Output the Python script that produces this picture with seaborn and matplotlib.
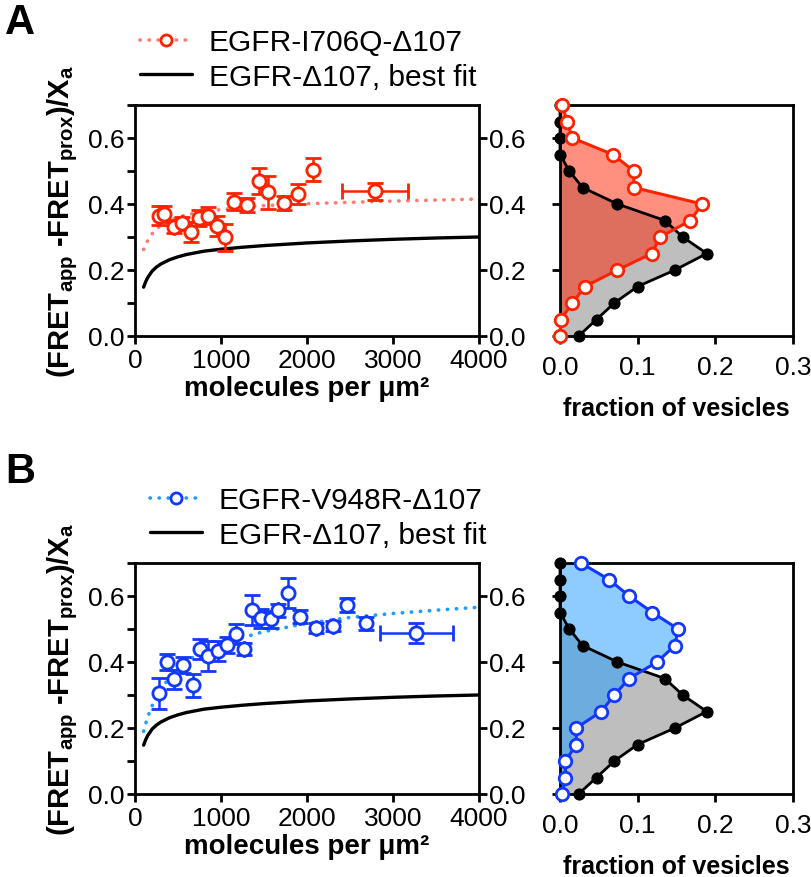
import matplotlib
matplotlib.use("Agg")
import matplotlib.pyplot as plt
import seaborn as sns
from matplotlib.lines import Line2D
from matplotlib.ticker import MultipleLocator

# --- style ---
sns.set_style("ticks")
plt.rcParams["font.family"] = ["Liberation Sans", "DejaVu Sans"]
plt.rcParams["mathtext.fontset"] = "custom"
plt.rcParams["mathtext.rm"] = "Liberation Sans"
plt.rcParams["mathtext.bf"] = "Liberation Sans:bold"
plt.rcParams["mathtext.it"] = "Liberation Sans:italic"
for k in ["text.color", "axes.labelcolor", "xtick.color", "ytick.color", "axes.edgecolor"]:
    plt.rcParams[k] = "black"

red = "#FF2200"
salmon = "#FF7A70"
blue = "#1238FF"
sky = "#1E9BFF"
gray = "#BEBEBE"

# --- best-fit curves ---
fit_x = [100, 125, 150, 200, 250, 300, 400, 500, 600, 800, 1000, 1250, 1500, 2000, 2500, 3000, 3500, 4000]
wt_fit = [0.148, 0.165, 0.178, 0.197, 0.209, 0.218, 0.231, 0.240, 0.247, 0.257, 0.263, 0.269, 0.274,
          0.282, 0.288, 0.293, 0.297, 0.300]
i706q_fit = [0.262, 0.278, 0.290, 0.310, 0.324, 0.335, 0.350, 0.360, 0.367, 0.377, 0.383, 0.390, 0.395,
             0.401, 0.405, 0.409, 0.412, 0.415]
v948r_fit = [0.190, 0.214, 0.235, 0.268, 0.295, 0.318, 0.352, 0.378, 0.402, 0.435, 0.455, 0.474, 0.492,
             0.517, 0.535, 0.547, 0.557, 0.566]

# --- EGFR-I706Q-D107 binned points ---
i706q_x = [279, 341, 453, 550, 650, 747, 852, 949, 1045, 1146, 1297, 1444, 1541, 1735, 1890, 2064, 2792]
i706q_y = [0.365, 0.370, 0.331, 0.341, 0.316, 0.357, 0.365, 0.334, 0.299, 0.407, 0.397, 0.469, 0.435,
           0.403, 0.430, 0.504, 0.438]
i706q_yerr = [0.030, 0.025, 0.020, 0.020, 0.030, 0.025, 0.025, 0.030, 0.040, 0.025, 0.020, 0.040, 0.050,
              0.020, 0.030, 0.035, 0.025]
i706q_xerr = [0, 0, 0, 0, 0, 0, 0, 0, 0, 0, 0, 0, 0, 0, 0, 0, 380]

# --- EGFR-V948R-D107 binned points ---
v948r_x = [279, 368, 457, 561, 670, 755, 852, 960, 1065, 1169, 1266, 1356, 1464, 1576, 1665, 1781, 1917,
           2110, 2304, 2467, 2691, 3272]
v948r_y = [0.305, 0.400, 0.347, 0.391, 0.330, 0.440, 0.418, 0.433, 0.452, 0.484, 0.440, 0.557, 0.532,
           0.529, 0.557, 0.610, 0.537, 0.502, 0.509, 0.573, 0.517, 0.489]
v948r_yerr = [0.048, 0.025, 0.030, 0.025, 0.035, 0.030, 0.045, 0.030, 0.025, 0.030, 0.018, 0.045, 0.030,
              0.025, 0.020, 0.045, 0.020, 0.015, 0.015, 0.020, 0.020, 0.030]
v948r_xerr = [0] * 21 + [426]

# --- histograms: fraction of vesicles per FRET bin ---
hist_bins = [0.0, 0.05, 0.10, 0.15, 0.20, 0.25, 0.30, 0.35, 0.40, 0.45, 0.50, 0.55, 0.60, 0.65, 0.70]
wt_frac = [0.024, 0.047, 0.070, 0.100, 0.148, 0.189, 0.158, 0.135, 0.074, 0.029, 0.012, 0.0, 0.0, 0.0, 0.0]
i706q_frac = [0.0, 0.001, 0.016, 0.032, 0.074, 0.118, 0.129, 0.168, 0.183, 0.095, 0.095, 0.068, 0.016,
              0.009, 0.003]
v948r_frac = [0.003, 0.007, 0.007, 0.021, 0.021, 0.053, 0.070, 0.089, 0.125, 0.148, 0.152, 0.119, 0.089,
              0.063, 0.027]

ylab = r"(FRET$_\mathbf{app}$ -FRET$_\mathbf{prox}$)/X$_\mathbf{a}$"

fig = plt.figure(figsize=(8.12, 8.78), dpi=100)
W, H = 812.0, 878.0


def frac_box(l, t, r, b):
    return [l / W, 1 - b / H, (r - l) / W, (b - t) / H]


def style_box(ax, lw=2.0):
    for s in ax.spines.values():
        s.set_visible(True)
        s.set_linewidth(lw)
        s.set_color("black")


def scatter_panel(ax, px, py, pxerr, pyerr, fit, mcol, fcol):
    sns.lineplot(x=fit_x, y=fit, ax=ax, color=fcol, lw=2.6, linestyle=(0, (0.1, 2.4)),
                 dash_capstyle="round", zorder=2)
    sns.lineplot(x=fit_x, y=wt_fit, ax=ax, color="black", lw=2.4, zorder=2)
    ax.errorbar(px, py, yerr=pyerr, xerr=pxerr, fmt="o", ms=9.5, mfc="white", mec=mcol, mew=2,
                ecolor=mcol, elinewidth=1.8, capsize=6, capthick=1.8, zorder=4)
    ax.set_xlim(0, 4000)
    ax.set_ylim(0, 0.7)
    ax.xaxis.set_major_locator(MultipleLocator(1000))
    ax.yaxis.set_major_locator(MultipleLocator(0.2))
    ax.yaxis.set_minor_locator(MultipleLocator(0.1))
    ax.yaxis.set_major_formatter(plt.FormatStrFormatter("%.1f"))
    style_box(ax)
    ax.tick_params(axis="both", which="major", labelsize=19, width=2, length=6, color="black")
    ax.tick_params(axis="y", which="major", right=True, labelright=True, pad=1.5)
    ax.tick_params(axis="y", which="minor", left=True, right=False, width=2, length=6)
    ax.tick_params(axis="x", pad=3)
    ax.set_xlabel("molecules per μm²", fontsize=20, fontweight="bold", labelpad=2)
    ax.set_ylabel(ylab, fontsize=21, fontweight="bold", labelpad=6)


def hist_panel(ax, frac, col):
    ax.fill_betweenx(hist_bins, 0, wt_frac, color=gray, lw=0, zorder=1)
    ax.fill_betweenx(hist_bins, 0, frac, color=sky if col == blue else col, alpha=0.5, lw=0, zorder=2)
    sns.lineplot(x=wt_frac, y=hist_bins, ax=ax, sort=False, estimator=None, color="black", lw=2,
                 marker="o", ms=8, mec="black", mfc="black", clip_on=False, zorder=3)
    sns.lineplot(x=frac, y=hist_bins, ax=ax, sort=False, estimator=None, color=col, lw=2.2,
                 marker="o", ms=9, mec=col, mfc="white", mew=2, clip_on=False, zorder=4)
    ax.set_xlim(0, 0.3)
    ax.set_ylim(0, 0.7)
    ax.xaxis.set_major_locator(MultipleLocator(0.1))
    ax.xaxis.set_major_formatter(plt.FormatStrFormatter("%.1f"))
    ax.yaxis.set_major_locator(MultipleLocator(0.2))
    style_box(ax)
    ax.tick_params(axis="both", labelsize=19, width=2, length=6, color="black")
    ax.tick_params(axis="y", labelleft=False)
    ax.tick_params(axis="x", pad=8)
    ax.set_xlabel("fraction of vesicles", fontsize=18, fontweight="bold", labelpad=12)


# --- panel A ---
axA = fig.add_axes(frac_box(135, 106, 479, 337))
scatter_panel(axA, i706q_x, i706q_y, i706q_xerr, i706q_yerr, i706q_fit, red, salmon)
axAh = fig.add_axes(frac_box(560, 106, 793, 337))
hist_panel(axAh, i706q_frac, red)

# --- panel B ---
axB = fig.add_axes(frac_box(135, 564, 479, 795))
scatter_panel(axB, v948r_x, v948r_y, v948r_xerr, v948r_yerr, v948r_fit, blue, sky)
axBh = fig.add_axes(frac_box(560, 564, 793, 795))
hist_panel(axBh, v948r_frac, blue)

# --- legends ---
for top, mcol, fcol, name in [(29, red, salmon, "EGFR-I706Q-Δ107"), (487, blue, sky, "EGFR-V948R-Δ107")]:
    h1 = Line2D([], [], color=fcol, lw=2.6, linestyle=(0, (0.1, 2.4)), dash_capstyle="round",
                marker="o", ms=8, mfc="white", mec=mcol, mew=2)
    h2 = Line2D([], [], color="black", lw=2.4)
    left = 140 if mcol == red else 150
    fig.legend([h1, h2], [name, "EGFR-Δ107, best fit"], loc="upper left",
               bbox_to_anchor=(left / W, 1 - top / H), frameon=False, fontsize=21.5,
               handlelength=1.75, handletextpad=0.55, labelspacing=0.22, borderpad=0, borderaxespad=0)

fig.text(5 / W, 1 - 3 / H, "A", fontsize=30, fontweight="bold", va="top", ha="left")
fig.text(5 / W, 1 - 452 / H, "B", fontsize=30, fontweight="bold", va="top", ha="left")

fig.savefig("out.png", dpi=100)
